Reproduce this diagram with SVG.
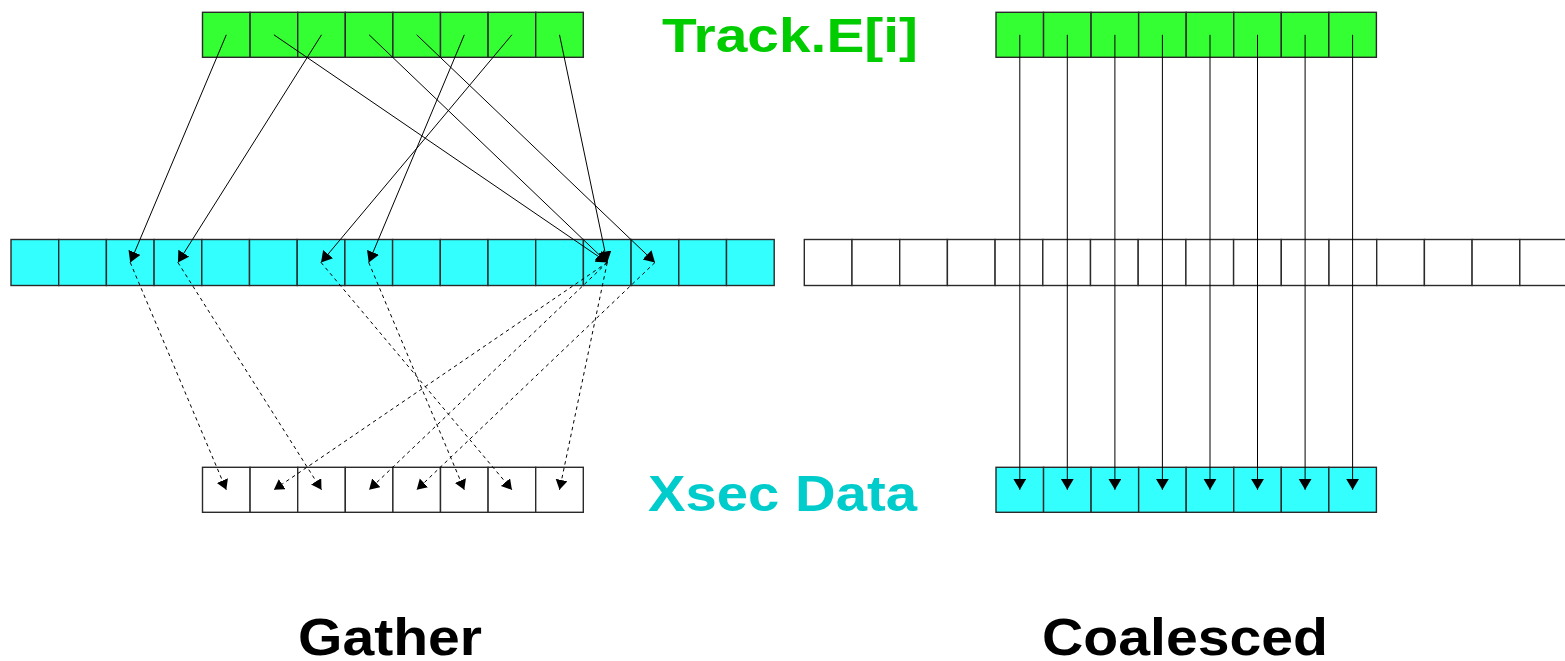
<svg xmlns="http://www.w3.org/2000/svg" width="1565" height="661" viewBox="0 0 1565 661">
  <style>
    .cell { stroke: #2a2a2a; stroke-width: 1.4; }
    .green { fill: #33ff33; }
    .cyan { fill: #33ffff; }
    .white { fill: #ffffff; }
    .arrow { stroke: #000; stroke-width: 1; fill: none; marker-end: url(#head); }
    .dashed { stroke: #000; stroke-width: 1; fill: none; stroke-dasharray: 3.5 3.5; marker-end: url(#headSmall); }
    .label { font-family: "Liberation Sans", Arial, sans-serif; font-weight: bold; }
  </style>
  <defs>
    <marker id="head" markerUnits="userSpaceOnUse" markerWidth="14" markerHeight="14" refX="11" refY="6.5" orient="auto">
      <path d="M0,0 L11,6.5 L0,13 Z" fill="#000"/>
    </marker>
    <marker id="headSmall" markerUnits="userSpaceOnUse" markerWidth="14" markerHeight="14" refX="10" refY="6" orient="auto">
      <path d="M0,0 L10,6 L0,12 Z" fill="#000"/>
    </marker>
  </defs>

  <rect width="1565" height="661" fill="#fff"/>

  <!-- Gather: track array (8 cells) -->
  <g id="gather-track" class="cell green">
    <rect x="202.5" y="12.3" width="47.6" height="45"/>
    <rect x="250.1" y="12.3" width="47.6" height="45"/>
    <rect x="297.7" y="12.3" width="47.6" height="45"/>
    <rect x="345.3" y="12.3" width="47.6" height="45"/>
    <rect x="392.9" y="12.3" width="47.6" height="45"/>
    <rect x="440.5" y="12.3" width="47.6" height="45"/>
    <rect x="488.1" y="12.3" width="47.6" height="45"/>
    <rect x="535.7" y="12.3" width="47.6" height="45"/>
  </g>

  <!-- Gather: energy grid (16 cells) -->
  <g id="gather-grid" class="cell cyan">
    <rect x="11" y="239.5" width="47.7" height="46"/>
    <rect x="58.7" y="239.5" width="47.7" height="46"/>
    <rect x="106.4" y="239.5" width="47.7" height="46"/>
    <rect x="154.1" y="239.5" width="47.7" height="46"/>
    <rect x="201.8" y="239.5" width="47.7" height="46"/>
    <rect x="249.5" y="239.5" width="47.7" height="46"/>
    <rect x="297.2" y="239.5" width="47.7" height="46"/>
    <rect x="344.9" y="239.5" width="47.7" height="46"/>
    <rect x="392.6" y="239.5" width="47.7" height="46"/>
    <rect x="440.3" y="239.5" width="47.7" height="46"/>
    <rect x="488" y="239.5" width="47.7" height="46"/>
    <rect x="535.7" y="239.5" width="47.7" height="46"/>
    <rect x="583.4" y="239.5" width="47.7" height="46"/>
    <rect x="631.1" y="239.5" width="47.7" height="46"/>
    <rect x="678.8" y="239.5" width="47.7" height="46"/>
    <rect x="726.5" y="239.5" width="47.7" height="46"/>
  </g>

  <!-- Gather: xsec output (8 cells) -->
  <g id="gather-xsec" class="cell white">
    <rect x="202.5" y="467.3" width="47.6" height="45"/>
    <rect x="250.1" y="467.3" width="47.6" height="45"/>
    <rect x="297.7" y="467.3" width="47.6" height="45"/>
    <rect x="345.3" y="467.3" width="47.6" height="45"/>
    <rect x="392.9" y="467.3" width="47.6" height="45"/>
    <rect x="440.5" y="467.3" width="47.6" height="45"/>
    <rect x="488.1" y="467.3" width="47.6" height="45"/>
    <rect x="535.7" y="467.3" width="47.6" height="45"/>
  </g>

  <!-- Coalesced: track array (8 cells) -->
  <g id="coalesced-track" class="cell green">
    <rect x="996" y="12.3" width="47.55" height="45"/>
    <rect x="1043.55" y="12.3" width="47.55" height="45"/>
    <rect x="1091.1" y="12.3" width="47.55" height="45"/>
    <rect x="1138.65" y="12.3" width="47.55" height="45"/>
    <rect x="1186.2" y="12.3" width="47.55" height="45"/>
    <rect x="1233.75" y="12.3" width="47.55" height="45"/>
    <rect x="1281.3" y="12.3" width="47.55" height="45"/>
    <rect x="1328.85" y="12.3" width="47.55" height="45"/>
  </g>

  <!-- Coalesced: grid (16 cells, last one runs off the edge) -->
  <g id="coalesced-grid" class="cell white">
    <rect x="804.3" y="239.5" width="47.7" height="46"/>
    <rect x="852" y="239.5" width="47.7" height="46"/>
    <rect x="899.7" y="239.5" width="47.7" height="46"/>
    <rect x="947.4" y="239.5" width="47.7" height="46"/>
    <rect x="995.1" y="239.5" width="47.7" height="46"/>
    <rect x="1042.8" y="239.5" width="47.7" height="46"/>
    <rect x="1090.5" y="239.5" width="47.7" height="46"/>
    <rect x="1138.2" y="239.5" width="47.7" height="46"/>
    <rect x="1185.9" y="239.5" width="47.7" height="46"/>
    <rect x="1233.6" y="239.5" width="47.7" height="46"/>
    <rect x="1281.3" y="239.5" width="47.7" height="46"/>
    <rect x="1329" y="239.5" width="47.7" height="46"/>
    <rect x="1376.7" y="239.5" width="47.7" height="46"/>
    <rect x="1424.4" y="239.5" width="47.7" height="46"/>
    <rect x="1472.1" y="239.5" width="47.7" height="46"/>
    <rect x="1519.8" y="239.5" width="47.7" height="46"/>
  </g>

  <!-- Coalesced: xsec output (8 cells) -->
  <g id="coalesced-xsec" class="cell cyan">
    <rect x="996" y="467.3" width="47.55" height="45"/>
    <rect x="1043.55" y="467.3" width="47.55" height="45"/>
    <rect x="1091.1" y="467.3" width="47.55" height="45"/>
    <rect x="1138.65" y="467.3" width="47.55" height="45"/>
    <rect x="1186.2" y="467.3" width="47.55" height="45"/>
    <rect x="1233.75" y="467.3" width="47.55" height="45"/>
    <rect x="1281.3" y="467.3" width="47.55" height="45"/>
    <rect x="1328.85" y="467.3" width="47.55" height="45"/>
  </g>

  <!-- Connectors -->
  <g id="connectors">
    <!-- gather: track -> grid lookups -->
    <line class="arrow" x1="226.3" y1="34.8" x2="130.25" y2="262.5"/>
    <line class="arrow" x1="273.9" y1="34.8" x2="607.25" y2="262.5"/>
    <line class="arrow" x1="321.5" y1="34.8" x2="177.95" y2="262.5"/>
    <line class="arrow" x1="369.1" y1="34.8" x2="607.25" y2="262.5"/>
    <line class="arrow" x1="416.7" y1="34.8" x2="654.95" y2="262.5"/>
    <line class="arrow" x1="464.3" y1="34.8" x2="368.75" y2="262.5"/>
    <line class="arrow" x1="511.9" y1="34.8" x2="321.05" y2="262.5"/>
    <line class="arrow" x1="559.5" y1="34.8" x2="607.25" y2="262.5"/>
    <!-- gather: grid -> xsec writes -->
    <line class="dashed" x1="130.25" y1="262.5" x2="226.3" y2="489.8"/>
    <line class="dashed" x1="177.95" y1="262.5" x2="321.5" y2="489.8"/>
    <line class="dashed" x1="321.05" y1="262.5" x2="511.9" y2="489.8"/>
    <line class="dashed" x1="368.75" y1="262.5" x2="464.3" y2="489.8"/>
    <line class="dashed" x1="607.25" y1="262.5" x2="273.9" y2="489.8"/>
    <line class="dashed" x1="607.25" y1="262.5" x2="369.1" y2="489.8"/>
    <line class="dashed" x1="607.25" y1="262.5" x2="559.5" y2="489.8"/>
    <line class="dashed" x1="654.95" y1="262.5" x2="416.7" y2="489.8"/>
    <!-- coalesced: straight down -->
    <line class="arrow" x1="1019.8" y1="34.8" x2="1019.8" y2="489.8"/>
    <line class="arrow" x1="1067.3" y1="34.8" x2="1067.3" y2="489.8"/>
    <line class="arrow" x1="1114.9" y1="34.8" x2="1114.9" y2="489.8"/>
    <line class="arrow" x1="1162.4" y1="34.8" x2="1162.4" y2="489.8"/>
    <line class="arrow" x1="1210" y1="34.8" x2="1210" y2="489.8"/>
    <line class="arrow" x1="1257.5" y1="34.8" x2="1257.5" y2="489.8"/>
    <line class="arrow" x1="1305.1" y1="34.8" x2="1305.1" y2="489.8"/>
    <line class="arrow" x1="1352.6" y1="34.8" x2="1352.6" y2="489.8"/>
  </g>

  <!-- Labels -->
  <g id="labels" class="label">
    <text x="662" y="51.7" font-size="49" fill="#00cc00" textLength="256" lengthAdjust="spacingAndGlyphs">Track.E[i]</text>
    <text x="648" y="511" font-size="50" fill="#00cccc" textLength="269" lengthAdjust="spacingAndGlyphs">Xsec Data</text>
    <text x="298" y="655" font-size="52" fill="#000" textLength="184" lengthAdjust="spacingAndGlyphs">Gather</text>
    <text x="1042" y="655" font-size="52" fill="#000" textLength="286" lengthAdjust="spacingAndGlyphs">Coalesced</text>
  </g>
</svg>
